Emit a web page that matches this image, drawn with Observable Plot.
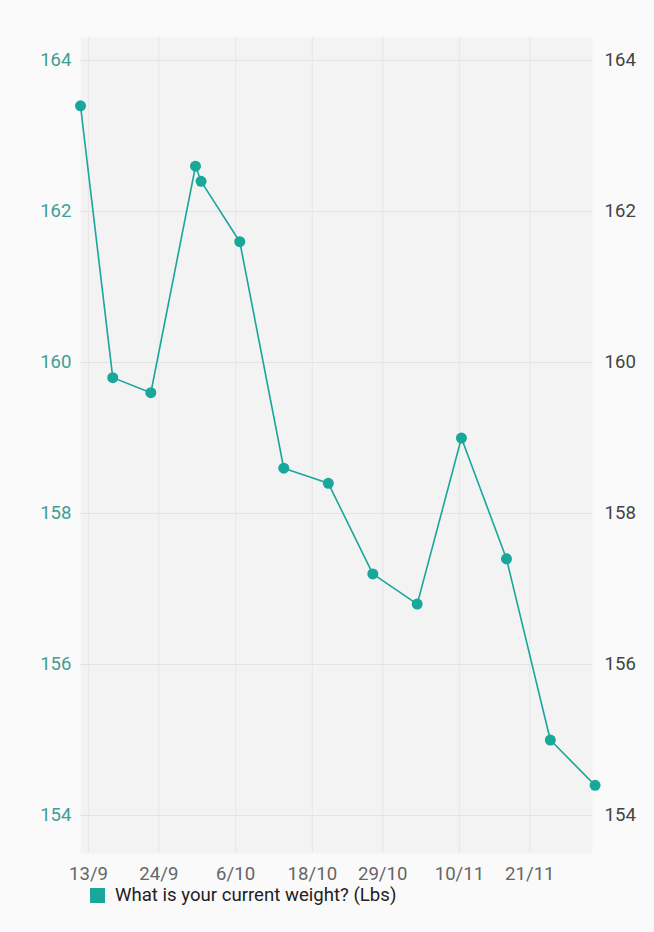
<!DOCTYPE html>
<html><head><meta charset="utf-8">
<script src="https://cdn.jsdelivr.net/npm/d3@7"></script>
<script src="https://cdn.jsdelivr.net/npm/@observablehq/plot@0.6"></script>
<style>
html,body{margin:0;padding:0;background:#fafafa;}
body{width:654px;height:932px;overflow:hidden;font-family:Roboto,sans-serif;}
#chart svg{display:block;}
#legend{display:flex;align-items:center;margin-left:90px;margin-top:-1px;font-size:18.6px;color:#222;line-height:18px;}
#legend .sw{width:15px;height:15px;background:#19a69b;margin-right:10px;display:inline-block;}
</style></head><body>
<div id="chart"></div>
<div id="legend"><span class="sw"></span><span id="legendText"></span></div>
<script>
const seriesName = "What is your current weight? (Lbs)";
const dates = ["2023-09-11T18:00Z","2023-09-16T19:00Z","2023-09-22T18:00Z","2023-09-29T17:30Z","2023-09-30T14:30Z","2023-10-06T15:40Z","2023-10-13T12:45Z","2023-10-20T12:00Z","2023-10-27T10:50Z","2023-11-03T09:30Z","2023-11-10T07:30Z","2023-11-17T08:30Z","2023-11-24T05:00Z","2023-12-01T05:00Z"];
const weights = [163.4,159.8,159.6,162.6,162.4,161.6,158.6,158.4,157.2,156.8,159.0,157.4,155.0,154.4];
const tickDates = ["2023-09-13","2023-09-24","2023-10-06","2023-10-18","2023-10-29","2023-11-10","2023-11-21"];
const tickLabels = ["13/9","24/9","6/10","18/10","29/10","10/11","21/11"];
const yTicks = [154,156,158,160,162,164];

const teal = "#19a69b";
const data = dates.map((d,i)=>({date:new Date(d), weight:weights[i]}));
const ticks = tickDates.map(d=>new Date(d));
const labelMap = new Map(ticks.map((d,i)=>[+d, tickLabels[i]]));

const chart = Plot.plot({
  width:654, height:887,
  marginLeft:80, marginRight:62, marginTop:37, marginBottom:34,
  style:{fontFamily:"Roboto, sans-serif", fontSize:"18.6px", background:"transparent"},
  x:{type:"utc", domain:[ticks[0], ticks[ticks.length-1]], range:[88,529.3], label:null},
  y:{domain:[153.497,164.305], label:null},
  marks:[
    Plot.frame({fill:"#f3f3f3", stroke:null}),
    Plot.gridY(yTicks,{stroke:"#e3e3e3", strokeOpacity:1}),
    Plot.gridX(ticks,{stroke:"#e8e8e8", strokeOpacity:1, strokeWidth:1.2}),
    Plot.axisY(yTicks,{anchor:"left", tickSize:0, tickPadding:9, fill:"#3f9f95", fontSize:18.6, label:null, tickFormat:d=>String(d)}),
    Plot.axisY(yTicks,{anchor:"right", tickSize:0, tickPadding:12, fill:"#444", fontSize:18.6, label:null, tickFormat:d=>String(d)}),
    Plot.axisX(ticks,{anchor:"bottom", tickSize:0, tickPadding:13, fill:"#666", fontSize:18.6, label:null, tickFormat:d=>labelMap.get(+d)}),
    Plot.line(data,{x:"date", y:"weight", stroke:teal, strokeWidth:1.6}),
    Plot.dot(data,{x:"date", y:"weight", r:5.5, fill:teal, stroke:null})
  ]
});
document.getElementById("chart").appendChild(chart);
document.getElementById("legendText").textContent = seriesName;
</script>
</body></html>
